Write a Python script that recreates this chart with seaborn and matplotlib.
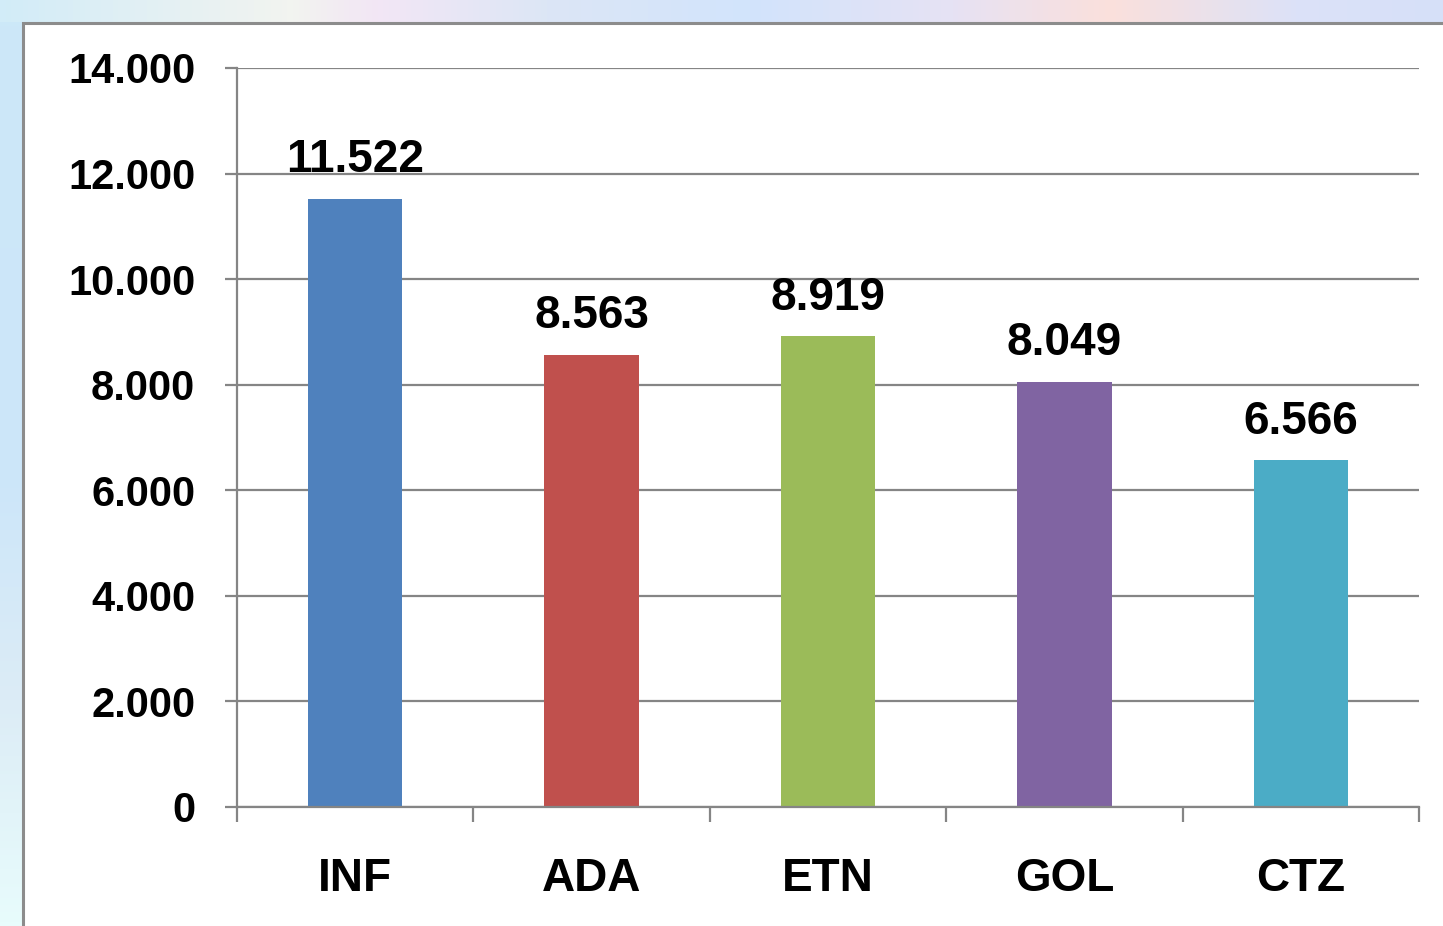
import numpy as np
import matplotlib.pyplot as plt
import seaborn as sns
from matplotlib.patches import Rectangle
from matplotlib.colors import LinearSegmentedColormap
from matplotlib.ticker import FixedLocator

categories = ["INF", "ADA", "ETN", "GOL", "CTZ"]
values = [11522, 8563, 8919, 8049, 6566]
bar_colors = ["#4F81BD", "#C0504D", "#9BBB59", "#8064A2", "#4BACC6"]
y_ticks = [0, 2000, 4000, 6000, 8000, 10000, 12000, 14000]


def dot_thousands(v):
    return f"{v:,}".replace(",", ".")


sns.set_style("white")
plt.rcParams["font.family"] = ["Liberation Sans", "DejaVu Sans"]
plt.rcParams["font.weight"] = "bold"
plt.rcParams["text.color"] = "black"
plt.rcParams["xtick.color"] = "black"
plt.rcParams["ytick.color"] = "black"

W, H = 1443, 926
fig = plt.figure(figsize=(W / 100, H / 100), dpi=100)
fig.patch.set_facecolor("white")

# slide background strips (top and left)
top_cmap = LinearSegmentedColormap.from_list("top", [
    (0.0, "#d2ecf8"), (0.2, "#f2f4f0"), (0.26, "#f3e6f5"), (0.38, "#dce6f6"),
    (0.52, "#d2e4fc"), (0.66, "#e6e2f4"), (0.77, "#fbe0dc"), (0.9, "#dce2f8"),
    (1.0, "#d6e0f8")])
top = fig.add_axes([0, (H - 22) / H, 1, 22 / H])
top.imshow(np.linspace(0, 1, 256)[None, :], aspect="auto", cmap=top_cmap)
top.axis("off")

left_cmap = LinearSegmentedColormap.from_list("left", [
    (0.0, "#cce8f8"), (0.5, "#cce6fa"), (0.75, "#dcecf6"), (1.0, "#e8fcfc")])
left = fig.add_axes([0, 0, 22 / W, (H - 22) / H])
left.imshow(np.linspace(0, 1, 256)[:, None], aspect="auto", cmap=left_cmap)
left.axis("off")

# white chart panel with grey border
fig.patches.append(Rectangle((23 / W, -0.1), 1.2, (H - 23) / H + 0.1,
                             transform=fig.transFigure, facecolor="white",
                             edgecolor="#8c8c8c", lw=2.2, zorder=1))

ax = fig.add_axes([237 / W, 119 / H, (1419 - 237) / W, (807 - 68) / H])
ax.set_zorder(2)

sns.barplot(x=categories, y=values, hue=categories, palette=bar_colors,
            width=0.4, saturation=1, legend=False, linewidth=0,
            edgecolor="none", ax=ax)

for cont, v in zip(ax.containers, values):
    ax.bar_label(cont, labels=[dot_thousands(v)], padding=12,
                 fontsize=33, fontweight="bold", color="black")

grey = "#858585"
ax.set_ylim(0, 14000)
ax.set_xlim(-0.5, 4.5)
ax.set_yticks(y_ticks)
ax.set_yticklabels([dot_thousands(v) for v in y_ticks])
ax.yaxis.grid(True, color=grey, lw=1.6)
ax.set_axisbelow(True)
ax.set_xlabel("")
ax.set_ylabel("")

for side in ["top", "right"]:
    ax.spines[side].set_visible(False)
for side in ["left", "bottom"]:
    ax.spines[side].set_color(grey)
    ax.spines[side].set_linewidth(1.6)

ax.tick_params(axis="y", left=True, direction="out", length=9, width=1.6,
               color=grey, labelcolor="black", pad=21, labelsize=30)
ax.tick_params(axis="x", which="major", bottom=True, length=0, pad=36,
               labelcolor="black", labelsize=33)
ax.xaxis.set_minor_locator(FixedLocator(np.arange(-0.5, 5, 1)))
ax.tick_params(axis="x", which="minor", bottom=True, direction="out",
               length=11, width=1.6, color=grey)
for lbl in ax.get_xticklabels() + ax.get_yticklabels():
    lbl.set_fontweight("bold")

fig.savefig("out.png", dpi=100)
